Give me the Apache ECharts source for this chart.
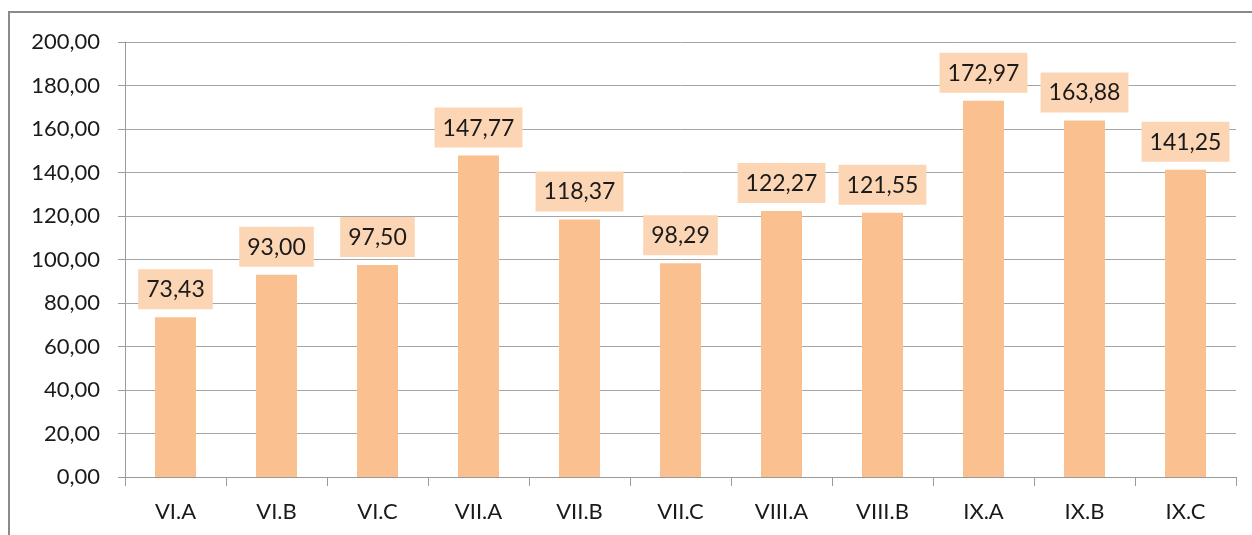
<!DOCTYPE html>
<html><head><meta charset="utf-8">
<script src="https://cdn.jsdelivr.net/npm/echarts@6/dist/echarts.min.js"></script>
<style>html,body{margin:0;padding:0;background:#fff}#c{width:1252px;height:535px}</style>
</head><body><div id="c"></div>
<script>
const categories = ['VI.A','VI.B','VI.C','VII.A','VII.B','VII.C','VIII.A','VIII.B','IX.A','IX.B','IX.C'];
const values = [73.43, 93.00, 97.50, 147.77, 118.37, 98.29, 122.27, 121.55, 172.97, 163.88, 141.25];
const fmt = v => v.toFixed(2).replace('.', ',');
const chart = echarts.init(document.getElementById('c'), null, {renderer: 'canvas'});
const font = 'Lato, "Open Sans", sans-serif';
chart.setOption({
  animation: false,
  graphic: [{type: 'rect', shape: {x: 9, y: 12, width: 1300, height: 600}, style: {fill: 'none', stroke: '#8a8a8a', lineWidth: 2}, z: 100}],
  grid: {left: 125, right: 16, top: 42, bottom: 58},
  xAxis: {
    type: 'category', data: categories,
    axisLine: {lineStyle: {color: '#9a9a9a', width: 1}},
    axisTick: {show: true, length: 9, alignWithLabel: false, lineStyle: {color: '#9a9a9a'}},
    axisLabel: {color: '#1a1a1a', fontSize: 22, fontFamily: font, margin: 24}
  },
  yAxis: {
    type: 'value', min: 0, max: 200, interval: 20,
    axisLine: {show: true, lineStyle: {color: '#9a9a9a', width: 1}},
    axisTick: {show: true, length: 7, lineStyle: {color: '#9a9a9a'}},
    splitLine: {lineStyle: {color: '#a6a6a6', width: 1}},
    axisLabel: {color: '#1a1a1a', fontSize: 22, fontFamily: font, margin: 25, formatter: v => fmt(v)}
  },
  series: [{
    type: 'bar', data: values, barWidth: 41,
    itemStyle: {color: '#FAC090'},
    label: {
      show: true, position: 'top', distance: 8,
      formatter: p => fmt(p.value),
      color: '#1a1a1a', fontSize: 23, fontFamily: font,
      backgroundColor: '#FCD5B4', padding: [9, 8, 8, 8]
    }
  }]
});
</script></body></html>
